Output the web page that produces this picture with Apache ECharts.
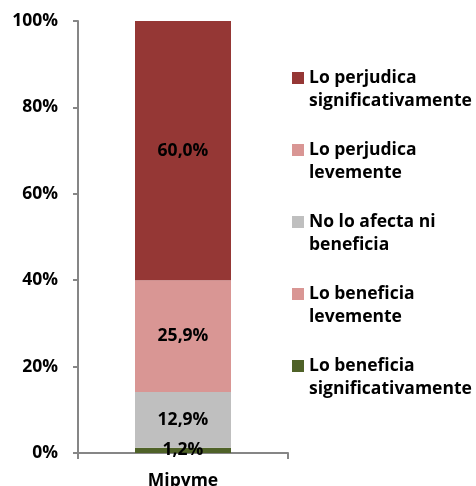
<!DOCTYPE html>
<html><head><meta charset="utf-8">
<script src="https://cdn.jsdelivr.net/npm/echarts@6/dist/echarts.min.js"></script>
<style>html,body{margin:0;padding:0;background:#fff}#c{width:476px;height:486px}</style>
</head><body><div id="c"></div>
<script>
const categories = ['Mipyme'];
const seriesNames = ['Lo beneficia\nsignificativamente','Lo beneficia\nlevemente','No lo afecta ni\nbeneficia','Lo perjudica\nlevemente','Lo perjudica\nsignificativamente'];
const seriesColors = ['#4F6228','#D99694','#BFBFBF','#D99694','#953735'];
const benefSig = [1.2];
const benefLev = [0];
const noAfecta = [12.9];
const perjLev = [25.9];
const perjSig = [60.0];
const yTicks = [0,20,40,60,80,100];
const values = [benefSig, benefLev, noAfecta, perjLev, perjSig];

const FONT = 'Open Sans';
const chart = echarts.init(document.getElementById('c'));
const iconPath = 'path://M0,0h0.01v0.01h-0.01z M0,5.5h12v12h-12z M0,46h0.01v0.01h-0.01z';
chart.setOption({
  animation:false,
  grid:{left:78,right:188,top:21,bottom:33,outerBoundsMode:'none',containLabel:false},
  legend:{
    orient:'vertical', left:292, top:66, padding:0,
    itemWidth:12, itemHeight:46, itemGap:25,
    data: seriesNames.slice().reverse().map(n=>({name:n, icon:iconPath})),
    textStyle:{fontFamily:FONT, fontWeight:'bold', fontSize:17.5, color:'#000', lineHeight:23.5}
  },
  xAxis:{type:'category', data:categories,
    axisLine:{lineStyle:{color:'#868686',width:2}},
    axisTick:{show:true,length:6,lineStyle:{color:'#868686',width:2}},
    axisLabel:{fontFamily:FONT,fontWeight:'bold',fontSize:17.5,color:'#000',margin:19}
  },
  yAxis:{type:'value', min:yTicks[0], max:yTicks[yTicks.length-1], interval:20,
    axisLine:{show:true,lineStyle:{color:'#868686',width:2}},
    axisTick:{show:true,length:5,lineStyle:{color:'#868686',width:2}},
    splitLine:{show:false},
    axisLabel:{formatter:'{value}%',fontFamily:FONT,fontWeight:'bold',fontSize:17.5,color:'#000',margin:20}
  },
  series: seriesNames.map((n,i)=>({
    name:n, type:'bar', stack:'total', barWidth:96, data:values[i],
    itemStyle:{color:seriesColors[i]},
    label:{show:true, position:'inside', fontFamily:FONT, fontWeight:'bold', fontSize:17.5, color:'#000',
      formatter:p=> p.value>0 ? p.value.toFixed(1).replace('.',',')+'%' : ''}
  }))
});
</script></body></html>
